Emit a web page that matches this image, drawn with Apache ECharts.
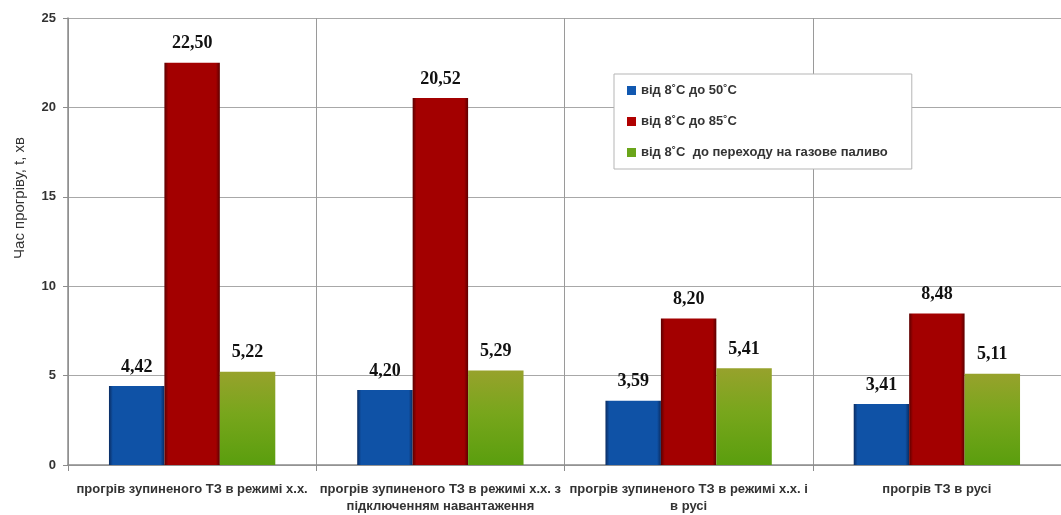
<!DOCTYPE html>
<html>
<head>
<meta charset="utf-8">
<script src="https://cdn.jsdelivr.net/npm/echarts@6/dist/echarts.min.js"></script>
<style>
  html, body { margin: 0; padding: 0; background: #ffffff; }
  #chart { width: 1061px; height: 515px; }
</style>
</head>
<body>
<div id="chart"></div>
<script>
// Warm-up time of the vehicle in different modes, minutes
const categories = [
  'прогрів зупиненого ТЗ в режимі х.х.',
  'прогрів зупиненого ТЗ в режимі х.х. з\nпідключенням навантаження',
  'прогрів зупиненого ТЗ в режимі х.х. і\nв русі',
  'прогрів ТЗ в русі'
];
const seriesNames = [
  'від 8˚С до 50˚С',
  'від 8˚С до 85˚С',
  'від 8˚С  до переходу на газове паливо'
];
const to50 = [4.42, 4.20, 3.59, 3.41];
const to85 = [22.50, 20.52, 8.20, 8.48];
const toGas = [5.22, 5.29, 5.41, 5.11];
const yTicks = [0, 5, 10, 15, 20, 25];
const yTitle = 'Час прогріву, t, хв';

const G = echarts.graphic.LinearGradient;
// bevelled bar fills: darker side edges around a solid body
const fills = [
  new G(0, 0, 1, 0, [
    { offset: 0, color: '#0a2c62' }, { offset: 0.07, color: '#0f52a6' },
    { offset: 0.93, color: '#0f52a6' }, { offset: 1, color: '#0a2c62' }
  ]),
  new G(0, 0, 1, 0, [
    { offset: 0, color: '#5c0000' }, { offset: 0.07, color: '#a30000' },
    { offset: 0.93, color: '#a30000' }, { offset: 1, color: '#5c0000' }
  ]),
  new G(0, 0, 0, 1, [
    { offset: 0, color: '#97a22c' }, { offset: 0.45, color: '#78a61c' },
    { offset: 1, color: '#5a9e0e' }
  ])
];
const legendColors = ['#1158b0', '#b00000', '#6aa51a'];

const fmt = p => p.value.toFixed(2).replace('.', ',');

function makeSeries(name, data, i) {
  return {
    name: name,
    type: 'bar',
    data: data,
    barGap: '0%',
    barCategoryGap: '33%',
    color: legendColors[i],
    itemStyle: { color: fills[i] },
    label: {
      show: true,
      position: 'top',
      distance: 10,
      formatter: fmt,
      fontFamily: '"Liberation Serif", "DejaVu Serif", serif',
      fontWeight: 'bold',
      fontSize: 18,
      color: '#111'
    }
  };
}

const chart = echarts.init(document.getElementById('chart'), null, { renderer: 'canvas' });
chart.setOption({
  animation: false,
  backgroundColor: '#ffffff',
  grid: { left: 68, top: 18, width: 996, bottom: 45, containLabel: false },
  graphic: [{
    type: 'text',
    x: 20,
    y: 198,
    rotation: Math.PI / 2,
    style: {
      text: yTitle,
      textAlign: 'center',
      textVerticalAlign: 'middle',
      fontFamily: '"Liberation Sans", sans-serif',
      fontSize: 15,
      fill: '#333'
    }
  }],
  legend: {
    orient: 'vertical',
    left: 614,
    top: 74,
    padding: [10, 24, 10, 13],
    itemGap: 18,
    itemWidth: 9,
    itemHeight: 9,
    icon: 'rect',
    backgroundColor: '#ffffff',
    borderColor: '#b5b5b5',
    borderWidth: 1,
    data: seriesNames.map((n, i) => ({ name: n, itemStyle: { color: legendColors[i] } })),
    textStyle: {
      fontFamily: '"Liberation Sans", sans-serif',
      fontSize: 13,
      fontWeight: 'bold',
      color: '#333'
    }
  },
  xAxis: {
    type: 'category',
    data: categories,
    axisLine: { lineStyle: { color: '#8c8c8c', width: 1.5 } },
    axisTick: { show: true, length: 6, lineStyle: { color: '#8c8c8c' } },
    splitLine: { show: true, lineStyle: { color: '#9a9a9a', width: 1 } },
    axisLabel: {
      margin: 16,
      interval: 0,
      lineHeight: 17,
      fontFamily: '"Liberation Sans", sans-serif',
      fontWeight: 'bold',
      fontSize: 13,
      color: '#333'
    }
  },
  yAxis: {
    type: 'value',
    min: yTicks[0],
    max: yTicks[yTicks.length - 1],
    interval: 5,
    axisLine: { show: true, lineStyle: { color: '#8c8c8c', width: 1.5 } },
    axisTick: { show: true, length: 5, lineStyle: { color: '#8c8c8c' } },
    splitLine: { show: true, lineStyle: { color: '#a8a8a8', width: 1 } },
    axisLabel: {
      margin: 12,
      fontFamily: '"Liberation Sans", sans-serif',
      fontWeight: 'bold',
      fontSize: 13,
      color: '#333'
    }
  },
  series: [
    makeSeries(seriesNames[0], to50, 0),
    makeSeries(seriesNames[1], to85, 1),
    makeSeries(seriesNames[2], toGas, 2)
  ]
});
</script>
</body>
</html>
